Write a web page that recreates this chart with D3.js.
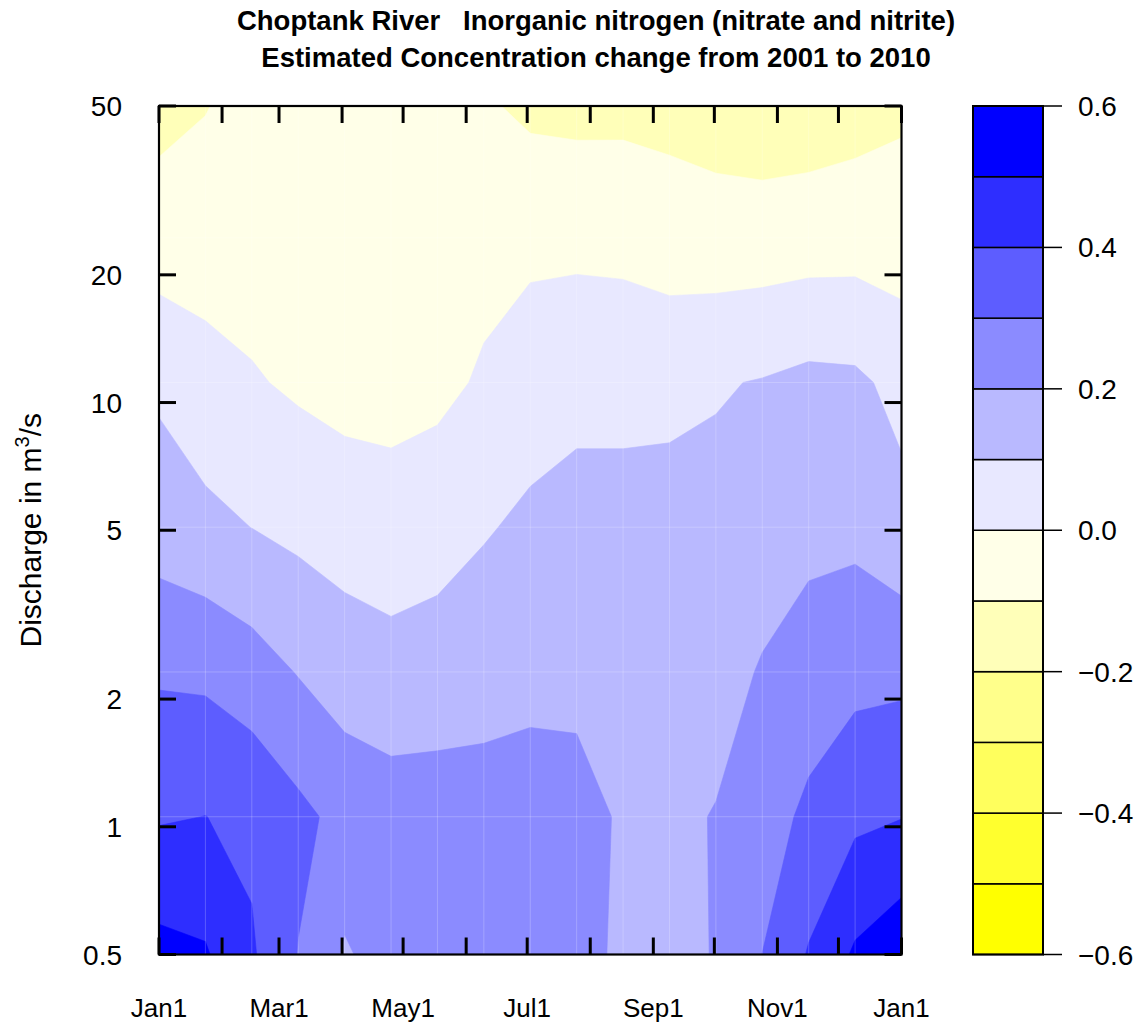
<!DOCTYPE html>
<html>
<head>
<meta charset="utf-8">
<script src="https://cdn.jsdelivr.net/npm/d3@7"></script>
<style>
  html, body { margin: 0; padding: 0; background: #ffffff; }
  svg { display: block; font-family: "Liberation Sans", Arial, Helvetica, sans-serif; }
  .title { white-space: pre; }
</style>
</head>
<body>
<svg id="chart" width="1146" height="1028"></svg>
<script>
// Sampling grid: time as fraction of the calendar year, discharge in m3/s
const yearFraction = [0, 0.0625, 0.125, 0.1875, 0.25, 0.3125, 0.375, 0.4375, 0.5,
                      0.5625, 0.625, 0.6875, 0.75, 0.8125, 0.875, 0.9375, 1];
const dischargeLevels = [0.481, 1.056, 2.317, 5.083, 11.15, 24.45, 53.6];

// Estimated concentration change 2001 -> 2010, one row per discharge level (low to high)
const changeQ0 = [0.538, 0.516, 0.414, 0.295, 0.184, 0.242, 0.250, 0.250, 0.250, 0.240, 0.178, 0.140, 0.210, 0.303, 0.412, 0.521, 0.582];
const changeQ1 = [0.391, 0.401, 0.379, 0.325, 0.270, 0.248, 0.246, 0.236, 0.237, 0.227, 0.191, 0.182, 0.204, 0.255, 0.321, 0.379, 0.397];
const changeQ2 = [0.287, 0.280, 0.245, 0.195, 0.150, 0.133, 0.145, 0.165, 0.177, 0.180, 0.165, 0.160, 0.166, 0.207, 0.244, 0.270, 0.276];
const changeQ3 = [0.153, 0.125, 0.099, 0.076, 0.059, 0.047, 0.060, 0.091, 0.120, 0.145, 0.145, 0.156, 0.125, 0.155, 0.174, 0.176, 0.131];
const changeQ4 = [0.083, 0.038, 0.009, -0.015, -0.035, -0.039, -0.025, 0.012, 0.049, 0.062, 0.062, 0.060, 0.093, 0.105, 0.125, 0.119, 0.071];
const changeQ5 = [-0.053, -0.051, -0.049, -0.050, -0.055, -0.060, -0.055, -0.032, -0.022, -0.021, -0.025, -0.040, -0.058, -0.055, -0.048, -0.044, -0.053];
const changeQ6 = [-0.137, -0.109, -0.072, -0.080, -0.080, -0.080, -0.080, -0.097, -0.130, -0.138, -0.136, -0.145, -0.152, -0.168, -0.163, -0.146, -0.121];
const changeRows = [changeQ0, changeQ1, changeQ2, changeQ3, changeQ4, changeQ5, changeQ6];

// Contour breaks and colour bar ticks
const contourLevels = [-0.6, -0.5, -0.4, -0.3, -0.2, -0.1, 0, 0.1, 0.2, 0.3, 0.4, 0.5, 0.6];
const colorbarTicks = [-0.6, -0.4, -0.2, 0, 0.2, 0.4, 0.6];

// Axes
const monthStartDays = [0, 31, 59, 90, 120, 151, 181, 212, 243, 273, 304, 334, 365];
const monthLabels = ["Jan1", "Mar1", "May1", "Jul1", "Sep1", "Nov1", "Jan1"];
const monthLabelDays = [0, 59, 120, 181, 243, 304, 365];
const dischargeTicks = [0.5, 1, 2, 5, 10, 20, 50];

const titleLines = ["Choptank River   Inorganic nitrogen (nitrate and nitrite)",
                    "Estimated Concentration change from 2001 to 2010"];

// ---------------------------------------------------------------------------
const svg = d3.select("#chart");
const plot = { left: 159, right: 901.5, top: 106, bottom: 954.5 };
const bar = { left: 973, right: 1043 };

const x = d3.scaleLinear().domain([0, 1]).range([plot.left, plot.right]);
const y = d3.scaleLog().domain([0.5, 50]).range([plot.bottom, plot.top]);
const zbar = d3.scaleLinear().domain([-0.6, 0.6]).range([plot.bottom, plot.top]);

// yellow -> white -> blue ramp, one colour per band
const ramp = d3.piecewise(d3.interpolateRgb, ["#ffff00", "#ffffff", "#0000ff"]);
const nBands = contourLevels.length - 1;
const bandColor = d3.range(nBands).map(i => d3.rgb(ramp(i / (nBands - 1))).formatHex());

// Filled contours over the grid
const nx = yearFraction.length, ny = dischargeLevels.length;
const values = changeRows.flat();
const bands = d3.contours()
  .size([nx, ny])
  .thresholds(contourLevels.slice(0, -1))(values);

// grid coordinates (sample i sits at i + 0.5) -> data -> pixels
const gx = d3.scaleLinear().domain(yearFraction.map((_, i) => i + 0.5)).range(yearFraction);
const gy = d3.scaleLinear().domain(dischargeLevels.map((_, j) => j + 0.5))
  .range(dischargeLevels.map(Math.log10));
const gridToScreen = d3.geoTransform({
  point(px, py) { this.stream.point(x(gx(px)), y(Math.pow(10, gy(py)))); }
});
const path = d3.geoPath(gridToScreen);

svg.append("defs").append("clipPath").attr("id", "plot-clip")
  .append("rect")
  .attr("x", plot.left).attr("y", plot.top)
  .attr("width", plot.right - plot.left).attr("height", plot.bottom - plot.top);

const field = svg.append("g").attr("clip-path", "url(#plot-clip)");
field.selectAll("path")
  .data(bands)
  .join("path")
  .attr("d", path)
  .attr("fill", (d, i) => bandColor[i])
  .attr("stroke", (d, i) => bandColor[i])
  .attr("stroke-width", 0.6);

// faint seams along the cell edges of the grid
const seams = field.append("g").attr("stroke", "#ffffff").attr("stroke-opacity", 0.22).attr("stroke-width", 1);
yearFraction.slice(1, -1).forEach(t => {
  seams.append("line").attr("x1", x(t)).attr("x2", x(t)).attr("y1", plot.top).attr("y2", plot.bottom);
});
dischargeLevels.forEach(q => {
  seams.append("line").attr("x1", plot.left).attr("x2", plot.right).attr("y1", y(q)).attr("y2", y(q));
});

// Frame
svg.append("rect")
  .attr("x", plot.left).attr("y", plot.top)
  .attr("width", plot.right - plot.left).attr("height", plot.bottom - plot.top)
  .attr("fill", "none").attr("stroke", "#000").attr("stroke-width", 2.2);

// Inward ticks on all four sides
const tickLen = 17;
const tickG = svg.append("g").attr("stroke", "#000").attr("stroke-width", 3);
monthStartDays.forEach(d => {
  const px = x(d / 365);
  tickG.append("line").attr("x1", px).attr("x2", px).attr("y1", plot.top).attr("y2", plot.top + tickLen);
  tickG.append("line").attr("x1", px).attr("x2", px).attr("y1", plot.bottom).attr("y2", plot.bottom - tickLen);
});
dischargeTicks.forEach(q => {
  const py = y(q);
  tickG.append("line").attr("x1", plot.left).attr("x2", plot.left + tickLen).attr("y1", py).attr("y2", py);
  tickG.append("line").attr("x1", plot.right).attr("x2", plot.right - tickLen).attr("y1", py).attr("y2", py);
});

// Tick labels
svg.append("g").selectAll("text")
  .data(monthLabels)
  .join("text")
  .attr("x", (d, i) => x(monthLabelDays[i] / 365))
  .attr("y", 1017)
  .attr("text-anchor", "middle")
  .attr("font-size", 26)
  .text(d => d);

svg.append("g").selectAll("text")
  .data(dischargeTicks)
  .join("text")
  .attr("x", 122)
  .attr("y", d => y(d) + 10)
  .attr("text-anchor", "end")
  .attr("font-size", 28)
  .text(d => String(d));

// Axis title
const ytitle = svg.append("text")
  .attr("transform", `translate(41, ${(plot.top + plot.bottom) / 2}) rotate(-90)`)
  .attr("text-anchor", "middle")
  .attr("font-size", 30);
ytitle.append("tspan").text("Discharge in m");
ytitle.append("tspan").attr("font-size", 20).attr("dy", -12).text("3");
ytitle.append("tspan").attr("dy", 12).text("/s");

// Title
svg.append("g").selectAll("text")
  .data(titleLines)
  .join("text")
  .attr("class", "title")
  .attr("x", 596)
  .attr("y", (d, i) => 30 + i * 37)
  .attr("text-anchor", "middle")
  .attr("font-size", 27.5)
  .attr("font-weight", "bold")
  .text(d => d);

// Colour bar
const barG = svg.append("g");
barG.selectAll("rect")
  .data(d3.range(nBands))
  .join("rect")
  .attr("x", bar.left)
  .attr("width", bar.right - bar.left)
  .attr("y", i => zbar(contourLevels[i + 1]))
  .attr("height", i => zbar(contourLevels[i]) - zbar(contourLevels[i + 1]))
  .attr("fill", i => bandColor[i])
  .attr("stroke", "#000")
  .attr("stroke-width", 1.5);
barG.append("rect")
  .attr("x", bar.left).attr("y", plot.top)
  .attr("width", bar.right - bar.left).attr("height", plot.bottom - plot.top)
  .attr("fill", "none").attr("stroke", "#000").attr("stroke-width", 2);

const fmt = v => (v < 0 ? "\u2212" : "") + Math.abs(v).toFixed(1);
barG.selectAll("line")
  .data(colorbarTicks)
  .join("line")
  .attr("x1", bar.right).attr("x2", bar.right + 19)
  .attr("y1", d => zbar(d)).attr("y2", d => zbar(d))
  .attr("stroke", "#000").attr("stroke-width", 1.5);
barG.selectAll("text")
  .data(colorbarTicks)
  .join("text")
  .attr("x", 1078)
  .attr("y", d => zbar(d) + 10)
  .attr("font-size", 28)
  .text(fmt);
</script>
</body>
</html>
